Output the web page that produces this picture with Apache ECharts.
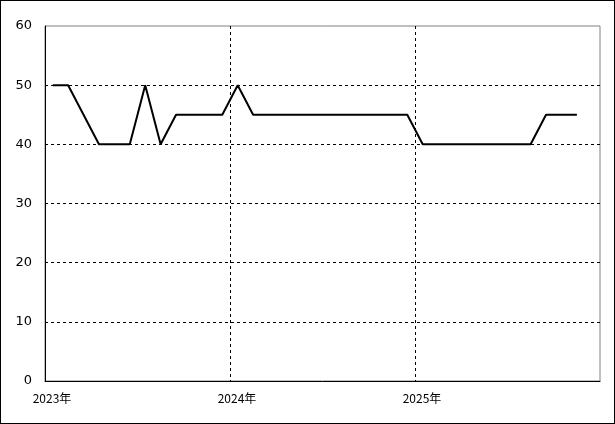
<!DOCTYPE html>
<html>
<head>
<meta charset="utf-8">
<script src="https://cdn.jsdelivr.net/npm/echarts@6/dist/echarts.min.js"></script>
<style>
  html, body { margin: 0; padding: 0; background: #fff; }
  #chart { width: 615px; height: 424px; box-sizing: border-box; border: 1px solid #000; }
</style>
</head>
<body>
<div id="chart"></div>
<script>
// monthly values, Jan 2023 .. Nov 2025
const startYear = 2023;
const months = [];
for (let y = 2023; y <= 2025; y++) {
  for (let m = 1; m <= 12; m++) {
    if (y === 2025 && m === 12) break;
    months.push(y + '-' + (m < 10 ? '0' + m : m));
  }
}
const values = [
  50, 50, 45, 40, 40, 40, 50, 40, 45, 45, 45, 45,
  50, 45, 45, 45, 45, 45, 45, 45, 45, 45, 45, 45,
  40, 40, 40, 40, 40, 40, 40, 40, 45, 45, 45
];
const yearLabels = ['2023年', '2024年', '2025年'];

// x position = month index from Jan 2023, plotted at mid-month
const lineData = months.map((s, i) => {
  const parts = s.split('-');
  const idx = (parseInt(parts[0]) - startYear) * 12 + parseInt(parts[1]) - 1;
  return [idx + 0.5, values[i]];
});

const dashed = { color: '#000', type: [3, 3], width: 1 };

const chart = echarts.init(document.getElementById('chart'));
chart.setOption({
  animation: false,
  grid: {
    left: 44, top: 25, right: 14, bottom: 42,
    show: true, borderColor: '#808080', borderWidth: 1, backgroundColor: 'transparent'
  },
  xAxis: {
    type: 'value',
    min: 0, max: 36, interval: 12,
    axisLine: { show: true, lineStyle: { color: '#000', width: 1 } },
    axisTick: { show: false },
    splitLine: { show: true, showMinLine: false, showMaxLine: false, lineStyle: dashed },
    axisLabel: {
      color: '#000', fontSize: 12, fontFamily: 'Noto Sans CJK JP',
      margin: 11, padding: [0, 0, 0, 14],
      formatter: function (v) { return yearLabels[v / 12] || ''; }
    }
  },
  yAxis: {
    type: 'value',
    min: 0, max: 60, interval: 10,
    axisLine: { show: true, lineStyle: { color: '#000', width: 1 } },
    axisTick: { show: false },
    splitLine: { show: true, showMinLine: false, showMaxLine: false, lineStyle: dashed },
    axisLabel: { color: '#000', fontSize: 13, fontFamily: 'DejaVu Sans', margin: 13 }
  },
  series: [{
    type: 'line',
    data: lineData,
    showSymbol: false,
    lineStyle: { color: '#000', width: 2 },
    z: 5
  }]
});
</script>
</body>
</html>
